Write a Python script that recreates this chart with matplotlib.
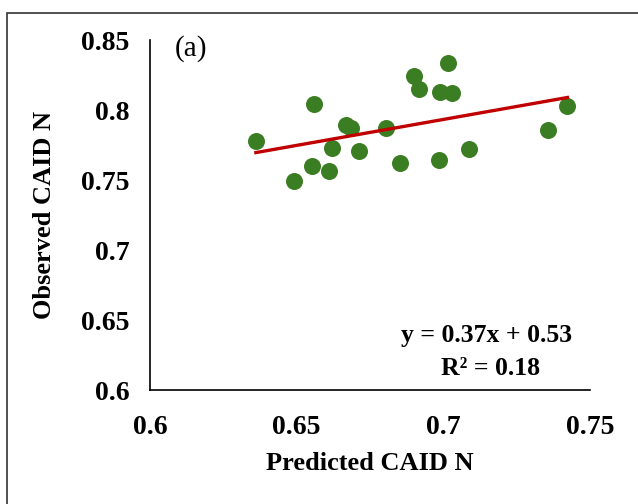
import numpy as np
import matplotlib
matplotlib.use("Agg")
import matplotlib.pyplot as plt
from matplotlib.patches import Rectangle

# values
predicted = [0.6361, 0.6492, 0.6552, 0.6609, 0.6559, 0.6619, 0.6668, 0.6684,
             0.6712, 0.6804, 0.6851, 0.6901, 0.6916, 0.6986, 0.6989, 0.7016,
             0.7030, 0.7087, 0.7357, 0.7423]
observed = [0.7781, 0.7495, 0.7600, 0.7564, 0.8045, 0.7726, 0.7893, 0.7869,
            0.7707, 0.7874, 0.7619, 0.8243, 0.8150, 0.7643, 0.8126, 0.8338,
            0.8119, 0.7719, 0.7855, 0.8031]
x_ticks = [0.6, 0.65, 0.7, 0.75]
y_ticks = [0.6, 0.65, 0.7, 0.75, 0.8, 0.85]
x_tick_labels = ["0.6", "0.65", "0.7", "0.75"]
y_tick_labels = ["0.6", "0.65", "0.7", "0.75", "0.8", "0.85"]
equation = "y = 0.37x + 0.53"
r_squared = "R² = 0.18"

plt.rcParams["font.family"] = ["Liberation Serif", "DejaVu Serif"]

fig = plt.figure(figsize=(6.38, 5.04), dpi=100)
ax = fig.add_axes([150 / 638, 1 - 390 / 504, 440 / 638, 350 / 504])

# outer frame (cut off at right and bottom in the reference)
fig.patches.append(Rectangle((7 / 638, -0.1), 1.2, 1 - 13 / 504 + 0.1,
                             transform=fig.transFigure, fill=False,
                             edgecolor="#333333", linewidth=1.2))

ax.scatter(predicted, observed, s=150, color="#3B7D23", zorder=3, linewidths=0)

slope, intercept = np.polyfit(predicted, observed, 1)
xs = np.array([min(predicted), max(predicted)])
ax.plot(xs, slope * xs + intercept, color="#C00000", linewidth=2.4, zorder=4)

ax.set_xlim(0.6, 0.75)
ax.set_ylim(0.6, 0.85)
ax.set_xticks(x_ticks)
ax.set_xticklabels(x_tick_labels)
ax.set_yticks(y_ticks)
ax.set_yticklabels(y_tick_labels)
ax.tick_params(axis="y", length=0, labelsize=20, pad=15)
ax.tick_params(axis="x", length=0, labelsize=20, pad=18)
for lab in ax.get_xticklabels() + ax.get_yticklabels():
    lab.set_fontweight("bold")

for side in ["top", "right"]:
    ax.spines[side].set_visible(False)
for side in ["left", "bottom"]:
    ax.spines[side].set_color("black")
    ax.spines[side].set_linewidth(1.2)

ax.set_xlabel("Predicted CAID N", fontsize=19, fontweight="bold", labelpad=9)
ax.set_ylabel("Observed CAID N", fontsize=19, fontweight="bold", labelpad=18)

ax.text(0.093, 0.977, "(a)", transform=ax.transAxes,
        fontsize=21, ha="center", va="center")
ax.text(0.766, 0.157, equation, transform=ax.transAxes, fontsize=18.5,
        fontweight="bold", ha="center", va="center")
ax.text(0.773, 0.062, r_squared, transform=ax.transAxes, fontsize=18.5,
        fontweight="bold", ha="center", va="center")

fig.savefig("out.png", dpi=100)
